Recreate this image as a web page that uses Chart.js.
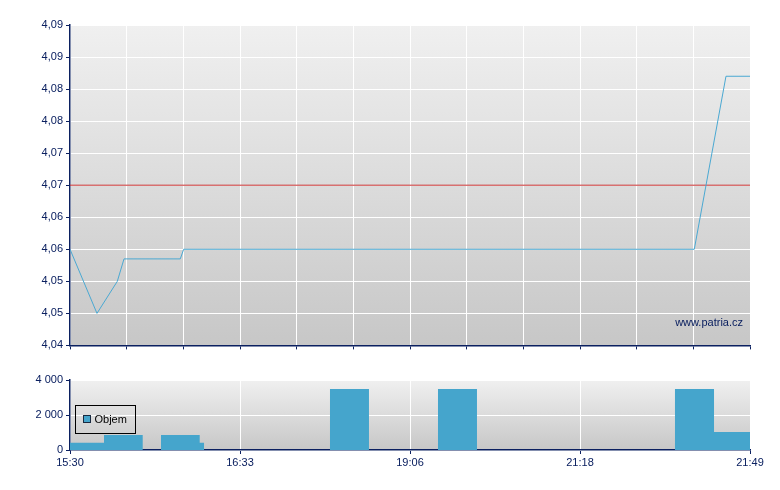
<!DOCTYPE html>
<html>
<head>
<meta charset="utf-8">
<script src="https://cdn.jsdelivr.net/npm/chart.js"></script>
<style>
body { margin: 0; background: #fff; }
canvas { position: absolute; left: 0; display: block; }
#priceChart { top: 0; }
#volumeChart { top: 360px; }
</style>
</head>
<body>
<canvas id="priceChart" width="780" height="355"></canvas>
<canvas id="volumeChart" width="780" height="130"></canvas>
<script>
// casova osa - popisky kazde 3 dilky
const timeLabels = ['15:30', '16:33', '19:06', '21:18', '21:49'];
// popisky osy ceny (zaokrouhleno na 2 mista jako v originale)
const priceTickLabels = ['4,04', '4,05', '4,05', '4,06', '4,06', '4,07', '4,07', '4,08', '4,08', '4,09', '4,09'];
const volTickLabels = ['0', '2 000', '4 000'];

// kurz
const priceX = [0, 0.476, 0.835, 0.953, 1.946, 2.006, 11.017, 11.576, 12];
const priceY = [4.055, 4.045, 4.050, 4.0535, 4.0535, 4.055, 4.055, 4.082, 4.082];
const refPrice = 4.065; // predchozi zaviraci

// objem (zacatky useku, hodnota plati do dalsiho bodu)
const volX = [0, 0.600, 1.283, 1.606, 2.289, 2.365, 4.588, 5.276, 6.494, 7.182, 10.676, 11.365, 12];
const volY = [417, 857, 0, 857, 417, 0, 3490, 0, 3490, 0, 3490, 1030, 1030];

const navy = '#0b2060';
Chart.defaults.font.family = '"Liberation Sans", Arial, sans-serif';
Chart.defaults.font.size = 11;
Chart.defaults.color = navy;

const bgPlugin = {
    id: 'bg',
    beforeDraw(chart) {
        const a = chart.chartArea, ctx = chart.ctx;
        const g = ctx.createLinearGradient(0, a.top, 0, a.bottom);
        g.addColorStop(0, '#f0f0f0');
        g.addColorStop(1, '#c7c7c7');
        ctx.save();
        ctx.fillStyle = g;
        ctx.fillRect(a.left, a.top, a.right - a.left, a.bottom - a.top);
        ctx.restore();
    }
};

const watermark = {
    id: 'watermark',
    afterDraw(chart) {
        const a = chart.chartArea, ctx = chart.ctx;
        ctx.save();
        ctx.fillStyle = navy;
        ctx.font = '11px "Liberation Sans", Arial, sans-serif';
        ctx.textAlign = 'right';
        ctx.textBaseline = 'middle';
        ctx.fillText('www.patria.cz', a.right - 7, a.bottom - 22);
        ctx.restore();
    }
};

const volLegend = {
    id: 'volLegend',
    afterDraw(chart) {
        const a = chart.chartArea, ctx = chart.ctx;
        const x = a.left + 5.5, y = a.top + 25.5;
        ctx.save();
        ctx.strokeStyle = '#000';
        ctx.lineWidth = 1;
        ctx.strokeRect(x, y, 60, 28);
        ctx.fillStyle = '#45a5cc';
        ctx.fillRect(x + 8, y + 10, 7, 7);
        ctx.strokeStyle = '#1a2a40';
        ctx.strokeRect(x + 8, y + 10, 7, 7);
        ctx.fillStyle = '#000';
        ctx.font = '11px "Liberation Sans", Arial, sans-serif';
        ctx.textBaseline = 'middle';
        ctx.fillText('Objem', x + 19, y + 14);
        ctx.restore();
    }
};

function yFit(s) { s.width = 70; }

new Chart(document.getElementById('priceChart'), {
    type: 'line',
    data: {
        datasets: [{
            data: priceX.map((x, i) => ({ x: x, y: priceY[i] })),
            borderColor: '#4aa8d2',
            borderWidth: 1,
            pointRadius: 0,
            tension: 0
        }, {
            data: [{ x: 0, y: refPrice }, { x: 12, y: refPrice }],
            borderColor: '#c83030',
            borderWidth: 1,
            pointRadius: 0
        }]
    },
    options: {
        responsive: false,
        animation: false,
        layout: { padding: { top: 25, right: 30, left: 0, bottom: 0 } },
        plugins: { legend: { display: false }, tooltip: { enabled: false } },
        scales: {
            x: {
                type: 'linear', min: 0, max: 12,
                ticks: { stepSize: 1, display: false },
                grid: { color: '#ffffff', tickColor: navy, tickLength: 4 },
                border: { color: navy, width: 1.5 },
                afterFit: s => { s.height = 5; }
            },
            y: {
                min: 4.04, max: 4.09,
                ticks: {
                    stepSize: 0.005, padding: 3,
                    callback: (v, i) => priceTickLabels[i]
                },
                grid: { color: '#ffffff', tickColor: navy, tickLength: 4 },
                border: { color: navy, width: 1.5 },
                afterFit: yFit
            }
        }
    },
    plugins: [bgPlugin, watermark]
});

new Chart(document.getElementById('volumeChart'), {
    type: 'line',
    data: {
        datasets: [{
            data: volX.map((x, i) => ({ x: x, y: volY[i] })),
            stepped: true,
            fill: 'origin',
            backgroundColor: '#45a5cc',
            borderColor: 'transparent',
            borderWidth: 0,
            pointRadius: 0
        }]
    },
    options: {
        responsive: false,
        animation: false,
        layout: { padding: { top: 20, right: 30, left: 0, bottom: 0 } },
        plugins: { legend: { display: false }, tooltip: { enabled: false } },
        scales: {
            x: {
                type: 'linear', min: 0, max: 12,
                ticks: {
                    stepSize: 3, padding: 2, maxRotation: 0, autoSkip: false,
                    callback: v => timeLabels[v / 3]
                },
                grid: { color: '#ffffff', tickColor: navy, tickLength: 4 },
                border: { color: navy, width: 1.5 },
                afterFit: s => { s.height = 40; }
            },
            y: {
                min: 0, max: 4000,
                ticks: {
                    stepSize: 2000, padding: 3,
                    callback: (v, i) => volTickLabels[i]
                },
                grid: { color: '#ffffff', tickColor: navy, tickLength: 4 },
                border: { color: navy, width: 1.5 },
                afterFit: yFit
            }
        }
    },
    plugins: [bgPlugin, volLegend]
});
</script>
</body>
</html>
